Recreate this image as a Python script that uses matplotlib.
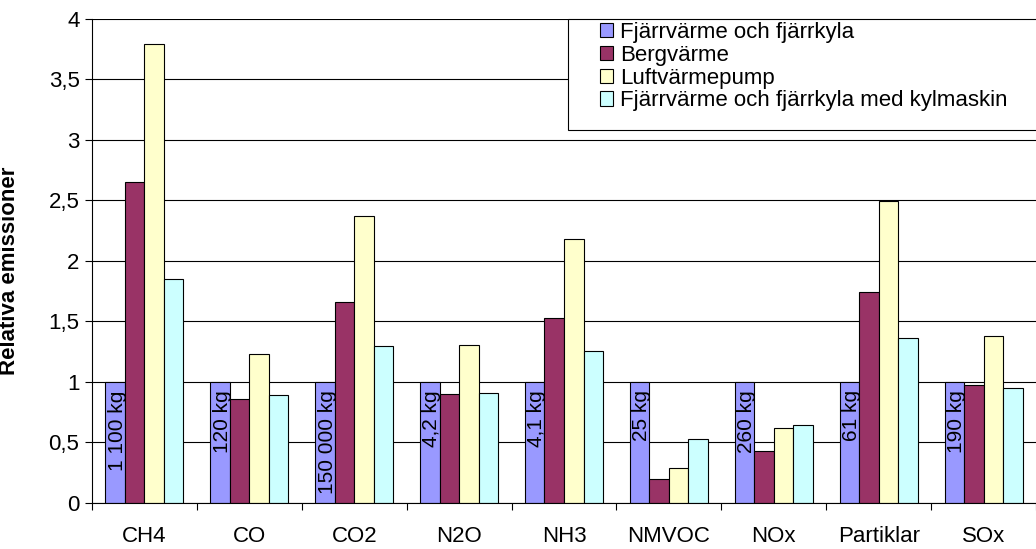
import numpy as np
import matplotlib
matplotlib.use("Agg")
import matplotlib.pyplot as plt
from matplotlib.patches import Rectangle
from matplotlib.ticker import FixedLocator

plt.rcParams['font.family'] = ['Liberation Sans', 'DejaVu Sans']

categories = ['CH4', 'CO', 'CO2', 'N2O', 'NH3', 'NMVOC', 'NOx', 'Partiklar', 'SOx']
fjarrvarme = [1, 1, 1, 1, 1, 1, 1, 1, 1]
bergvarme = [2.65, 0.86, 1.66, 0.90, 1.53, 0.20, 0.43, 1.74, 0.97]
luftvarmepump = [3.79, 1.23, 2.37, 1.30, 2.18, 0.29, 0.615, 2.49, 1.375]
kylmaskin = [1.85, 0.89, 1.295, 0.91, 1.25, 0.53, 0.645, 1.36, 0.95]
bar_labels = ['1 100 kg', '120 kg', '150 000 kg', '4,2 kg', '4,1 kg', '25 kg', '260 kg', '61 kg', '190 kg']
yticks = [0, 0.5, 1, 1.5, 2, 2.5, 3, 3.5, 4]

series = [
    ('Fjärrvärme och fjärrkyla', fjarrvarme, '#9999FF'),
    ('Bergvärme', bergvarme, '#993366'),
    ('Luftvärmepump', luftvarmepump, '#FFFFCC'),
    ('Fjärrvärme och fjärrkyla med kylmaskin', kylmaskin, '#CCFFFF'),
]

fig = plt.figure(figsize=(10.36, 5.49), dpi=100)
ax = fig.add_axes([0.0888, 0.0843, 0.9112, 0.8817])

x = np.arange(len(categories))
w = 0.186
for k, (name, vals, col) in enumerate(series):
    ax.bar(x + (k - 1.5) * w, vals, width=w, color=col, edgecolor='black',
           linewidth=0.8, label=name, zorder=2)

# absolute amounts written inside the first series
for i, lab in enumerate(bar_labels):
    ax.text(x[i] - 1.5 * w + 0.02, 0.93, lab, rotation=90, ha='center', va='top',
            fontsize=15, zorder=3)

ax.set_xlim(-0.5, len(categories) - 0.5)
ax.set_ylim(0, 4)
ax.set_yticks(yticks)
ax.set_yticklabels([f'{v:g}'.replace('.', ',') for v in yticks])
ax.set_xticks(x)
ax.set_xticklabels(categories)
ax.xaxis.set_minor_locator(FixedLocator(np.arange(-0.5, len(categories), 1)))
ax.tick_params(axis='x', which='major', length=0, labelsize=16, pad=17)
ax.tick_params(axis='x', which='minor', length=5, width=0.8, direction='out')
ax.tick_params(axis='y', length=5, width=0.8, direction='out', labelsize=16, pad=4)

ax.grid(axis='y', color='black', linewidth=0.8, zorder=0)
ax.set_axisbelow(True)
for s in ['top', 'right']:
    ax.spines[s].set_visible(False)
for s in ['left', 'bottom']:
    ax.spines[s].set_linewidth(0.8)

ax.set_ylabel('Relativa emissioner', fontsize=16, fontweight='bold')
ax.yaxis.set_label_coords(-0.0763, 0.479)

# legend box runs off the right edge like in the original
frame = Rectangle((568 / 1036, 1 - 130 / 549), 0.5, (130 - 18.7) / 549,
                  transform=fig.transFigure, facecolor='white', edgecolor='black',
                  linewidth=0.8, clip_on=False, zorder=4)
ax.add_patch(frame)
leg = ax.legend(loc='upper left', bbox_to_anchor=(600 / 1036, 1 - 22 / 549),
                bbox_transform=fig.transFigure, fontsize=16, frameon=False,
                handlelength=0.6, handleheight=0.6, handletextpad=0.3,
                labelspacing=0.08, borderpad=0, borderaxespad=0)
leg.set_zorder(5)
for h in leg.legend_handles:
    h.set_linewidth(0.8)

fig.savefig('out.png', dpi=100)
